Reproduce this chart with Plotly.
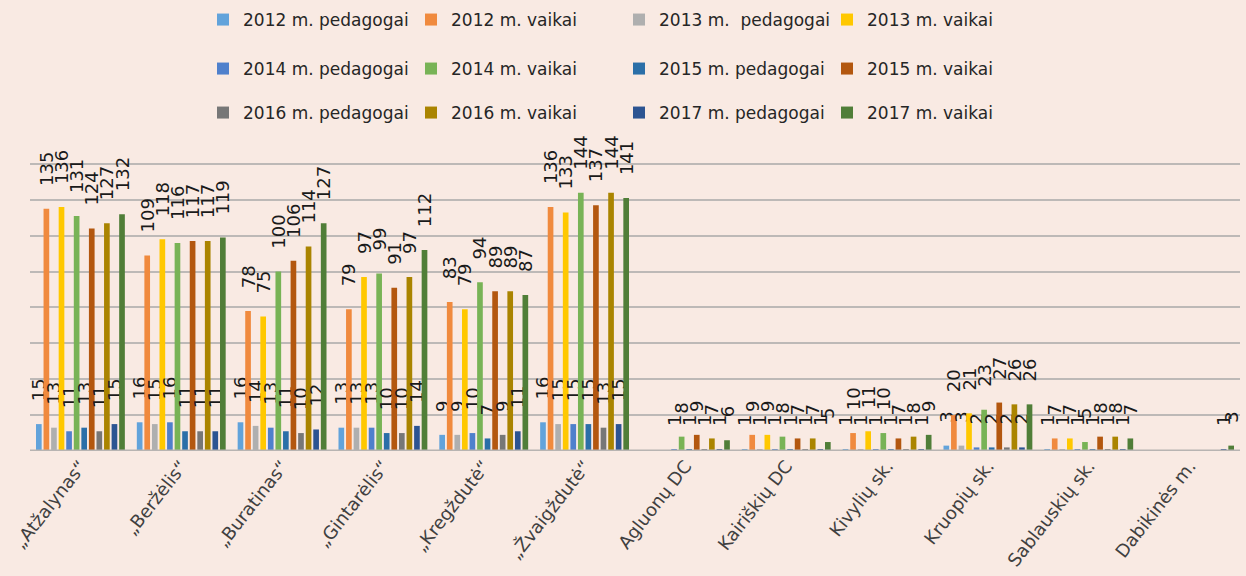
import plotly.graph_objects as go

CATEGORIES = ["„Atžalynas“", "„Beržėlis“", "„Buratinas“", "„Gintarėlis“",
              "„Kregždutė“", "„Žvaigždutė“", "Agluonų DC", "Kairiškių DC",
              "Kivylių sk.", "Kruopių sk.", "Sablauskių sk.", "Dabikinės m."]

N = None
PED_2012 = [15, 16, 16, 13, 9, 16, N, 1, 1, 3, 1, N]
VAI_2012 = [135, 109, 78, 79, 83, 136, N, 9, 10, 20, 7, N]
PED_2013 = [13, 15, 14, 13, 9, 15, N, 1, 1, 3, 1, N]
VAI_2013 = [136, 118, 75, 97, 79, 133, N, 9, 11, 21, 7, N]
PED_2014 = [11, 16, 13, 13, 10, 15, 1, 1, 1, 2, 1, N]
VAI_2014 = [131, 116, 100, 99, 94, 144, 8, 8, 10, 23, 5, N]
PED_2015 = [13, 11, 11, 10, 7, 15, 1, 1, 1, 2, 1, N]
VAI_2015 = [124, 117, 106, 91, 89, 137, 9, 7, 7, 27, 8, N]
PED_2016 = [11, 11, 10, 10, 9, 13, 1, 1, 1, 2, 1, N]
VAI_2016 = [127, 117, 114, 97, 89, 144, 7, 7, 8, 26, 8, N]
PED_2017 = [15, 11, 12, 14, 11, 15, 1, 1, 1, 2, 1, 1]
VAI_2017 = [132, 119, 127, 112, 87, 141, 6, 5, 9, 26, 7, 3]

SERIES = [
    ("2012 m. pedagogai", PED_2012, "#62A3DB", "legend"),
    ("2012 m. vaikai", VAI_2012, "#F08A3E", "legend"),
    ("2013 m.  pedagogai", PED_2013, "#AFAFAF", "legend"),
    ("2013 m. vaikai", VAI_2013, "#FFC800", "legend"),
    ("2014 m. pedagogai", PED_2014, "#4F80CC", "legend2"),
    ("2014 m. vaikai", VAI_2014, "#78B356", "legend2"),
    ("2015 m. pedagogai", PED_2015, "#2B6FA8", "legend2"),
    ("2015 m. vaikai", VAI_2015, "#B3570F", "legend2"),
    ("2016 m. pedagogai", PED_2016, "#777777", "legend3"),
    ("2016 m. vaikai", VAI_2016, "#AA8400", "legend3"),
    ("2017 m. pedagogai", PED_2017, "#2C5492", "legend3"),
    ("2017 m. vaikai", VAI_2017, "#507E38", "legend3"),
]

FONT = "DejaVu Sans, Verdana, sans-serif"
GAP = "\u2007\u2007"
AXIS_GREY = "#B8B4B2"

fig = go.Figure()
for name, vals, color, leg in SERIES:
    fig.add_trace(go.Bar(
        x=CATEGORIES, y=vals, name=name,
        marker=dict(color=color, line=dict(width=0)),
        text=[GAP + str(v) if v is not None else "" for v in vals],
        textposition="outside", textangle=-90,
        textfont=dict(family=FONT, size=18, color="#1a1a1a"),
        constraintext="none", cliponaxis=False,
        legend=leg,
    ))

legend_base = dict(
    orientation="h", xref="container", yref="container",
    xanchor="left", yanchor="middle", x=203 / 1246,
    entrywidth=163, itemwidth=30, bgcolor="rgba(0,0,0,0)",
    font=dict(family=FONT, size=17, color="#262626"),
    traceorder="normal",
)

fig.update_layout(
    width=1246, height=576,
    barmode="group", bargap=0.1, bargroupgap=0.25,
    paper_bgcolor="#F9EAE3", plot_bgcolor="rgba(0,0,0,0)",
    margin=dict(l=30, r=6, t=146, b=123),
    font=dict(family=FONT, color="#404040"),
    legend=dict(legend_base, y=1 - 20 / 576),
    legend2=dict(legend_base, y=1 - 69 / 576),
    legend3=dict(legend_base, y=1 - 113 / 576),
)
# baseline drawn over the bars, as in the original
fig.add_shape(type="line", xref="paper", yref="y", x0=0, x1=1, y0=0, y1=0,
              line=dict(color=AXIS_GREY, width=3), layer="above")
fig.update_xaxes(
    tickangle=-52, tickfont=dict(family=FONT, size=18, color="#404040"),
    showline=False, ticks="", showgrid=False,
)
fig.update_yaxes(
    range=[0, 170], dtick=20, showticklabels=False,
    gridcolor="#BDB9B7", gridwidth=2, zeroline=False, showline=False,
)

fig.write_html("out.html", config={"displayModeBar": False},
               post_script="document.body.style.margin='0px';")
